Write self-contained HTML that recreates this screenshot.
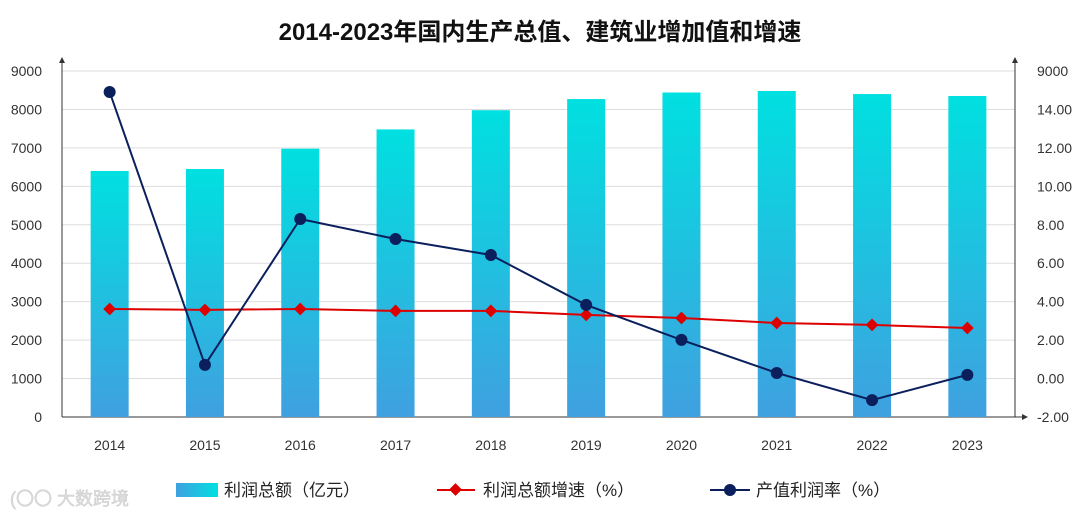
<!DOCTYPE html>
<html><head><meta charset="utf-8"><style>
body{margin:0;background:#fff;width:1080px;height:518px;overflow:hidden;font-family:"Liberation Sans","Noto Sans CJK SC",sans-serif}
</style></head><body>
<svg id="c" width="1080" height="518" xmlns="http://www.w3.org/2000/svg">
<defs>
<linearGradient id="bg" x1="0" y1="0" x2="0" y2="1"><stop offset="0" stop-color="#00e0e0"/><stop offset="1" stop-color="#40a0e0"/></linearGradient>
<linearGradient id="lg" x1="0" y1="0" x2="1" y2="0"><stop offset="0" stop-color="#40a0e0"/><stop offset="1" stop-color="#00e0e0"/></linearGradient>
</defs>
<text x="540" y="40" text-anchor="middle" font-size="24" font-weight="bold" fill="#111">2014-2023年国内生产总值、建筑业增加值和增速</text>
<g id="plot"></g>
<g>
<rect x="176" y="483" width="42" height="14" fill="url(#lg)"/>
<text x="224" y="496" font-size="17" fill="#222">利润总额（亿元）</text>
<line x1="437" y1="490" x2="475" y2="490" stroke="#d00" stroke-width="2"/>
<rect x="451" y="485" width="9" height="9" fill="#d00" transform="rotate(45 455.5 489.5)"/>
<text x="483" y="496" font-size="17" fill="#222">利润总额增速（%）</text>
<line x1="710" y1="490" x2="750" y2="490" stroke="#0a1f5c" stroke-width="2"/>
<circle cx="730" cy="490" r="6" fill="#0a1f5c"/>
<text x="756" y="496" font-size="17" fill="#222">产值利润率（%）</text>
</g>
<text x="10" y="505" font-size="18" fill="#ddd" stroke="#ccc" stroke-width="0.5">(〇〇 大数跨境</text>
</svg>
<script>
const categories=["2014","2015","2016","2017","2018","2019","2020","2021","2022","2023"];
const profitTotal=[6400,6450,6980,7480,7980,8270,8440,8480,8400,8350];
const profitGrowth=[3.62,3.57,3.62,3.52,3.52,3.31,3.15,2.89,2.79,2.63];
const profitRate=[14.91,0.71,8.30,7.26,6.43,3.83,2.01,0.29,-1.12,0.19];
const leftTicks=[0,1000,2000,3000,4000,5000,6000,7000,8000,9000];
const rightTicks=["-2.00","0.00","2.00","4.00","6.00","8.00","10.00","12.00","14.00","9000"];
const NS="http://www.w3.org/2000/svg";
const g=document.getElementById('plot');
const X0=62,X1=1015,Y0=417,Y1=71;
const step=(X1-X0)/categories.length;
const xc=i=>X0+step*(i+0.5);
const yl=v=>Y0-(v/9000)*(Y0-Y1);
const yr=v=>Y0-((v+2)/18)*(Y0-Y1);
function mk(t,a){const e=document.createElementNS(NS,t);for(const k in a)e.setAttribute(k,a[k]);g.appendChild(e);return e;}
leftTicks.forEach((v,i)=>{
 const l=mk('line',{x1:X0,x2:X1,y1:yl(v),y2:yl(v),stroke:i==0?'#888':'#ddd','stroke-width':1});
 
 
 const t=mk('text',{x:42,y:yl(v)+5,'text-anchor':'end','font-size':14,fill:'#333'});t.textContent=v;
 
 
 const r=mk('text',{x:1037,y:yl(v)+5,'font-size':14,fill:'#333'});r.textContent=rightTicks[i];
 
 
});
mk('line',{x1:X0,x2:X0,y1:Y0,y2:58,stroke:'#333'});
mk('path',{d:`M${X0-3} 63 L${X0} 57 L${X0+3} 63Z`,fill:'#333'});
mk('line',{x1:X1,x2:X1,y1:Y0,y2:58,stroke:'#333'});
mk('path',{d:`M${X1-3} 63 L${X1} 57 L${X1+3} 63Z`,fill:'#333'});
mk('line',{x1:X0,x2:1025,y1:Y0,y2:Y0,stroke:'#333'});
mk('path',{d:`M1022 414 L1028 417 L1022 420Z`,fill:'#333'});
categories.forEach((c,i)=>{
 const b=mk('rect',{x:xc(i)-19,y:yl(profitTotal[i]),width:38,height:Y0-yl(profitTotal[i]),fill:'url(#bg)'});
 
 
 const t=mk('text',{x:xc(i),y:450,'text-anchor':'middle','font-size':14,fill:'#333'});t.textContent=c;
 
 
});
const p1=mk('polyline',{points:profitGrowth.map((v,i)=>xc(i)+','+yr(v)).join(' '),fill:'none',stroke:'#d00','stroke-width':2});


profitGrowth.forEach((v,i)=>{
 const m=mk('rect',{x:xc(i)-4.5,y:yr(v)-4.5,width:9,height:9,fill:'#d00',transform:`rotate(45 ${xc(i)} ${yr(v)})`});
 
 
});
const p2=mk('polyline',{points:profitRate.map((v,i)=>xc(i)+','+yr(v)).join(' '),fill:'none',stroke:'#0a1f5c','stroke-width':2});


profitRate.forEach((v,i)=>{
 const m=mk('circle',{cx:xc(i),cy:yr(v),r:6,fill:'#0a1f5c'});
 
 
});
</script>
</body></html>
